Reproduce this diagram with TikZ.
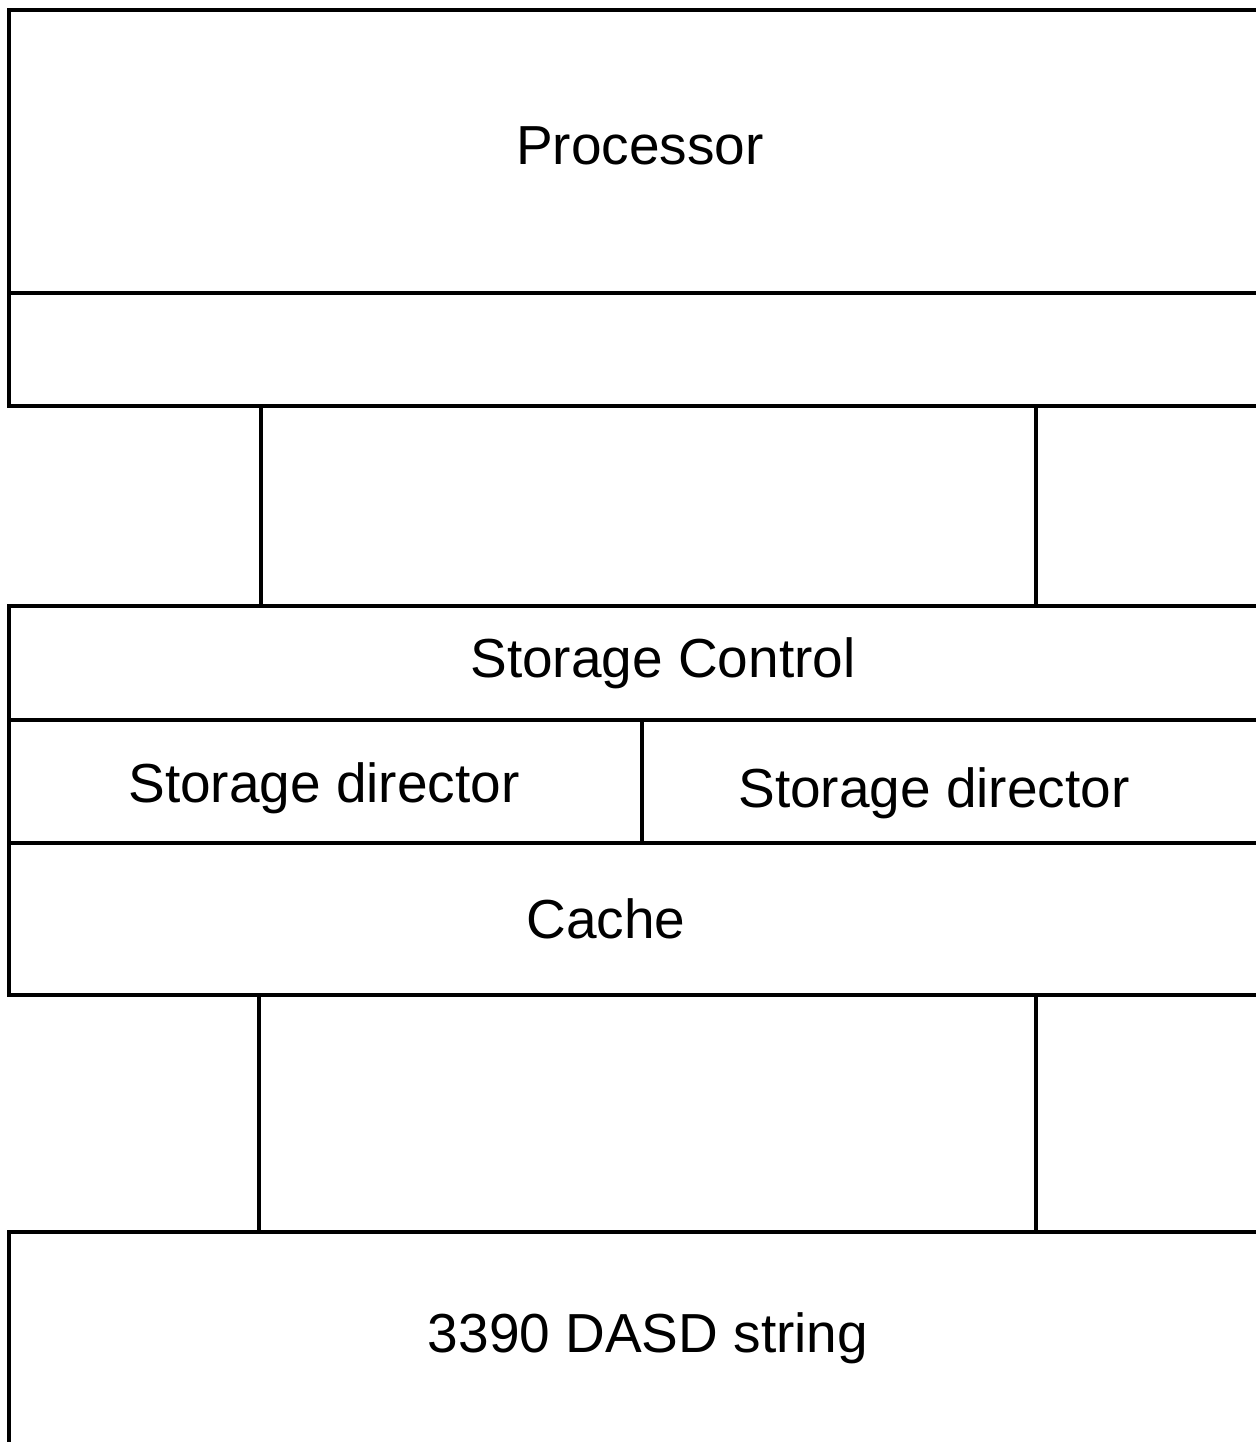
\documentclass[tikz,border=0pt]{standalone}
\usepackage{fontspec}
\setmainfont{Liberation Sans}
\usetikzlibrary{positioning,fit,calc}

\begin{document}
\begin{tikzpicture}[
    x=0.5pt, y=-0.5pt,
    every node/.style={font=\fontsize{27.5pt}{32pt}\selectfont},
    box/.style ={draw, line width=2pt, inner sep=0pt, outer sep=0pt},
    lbl/.style ={anchor=base, inner sep=0pt},
    wire/.style={line width=2pt},
]
\useasboundingbox (0,0) rectangle (1256,1442);
\clip (0,0) rectangle (1256,1442);

% boxes run off the right edge of the page
\node[box, fit={(9,10) (1290,293)}]    (proc)  {};
\node[box, fit={(9,293) (1290,406)}]   (chan)  {};
\node[box, fit={(9,606) (1290,720)}]   (ctl)   {};
\node[box, fit={(9,720) (642,843)}]    (dira)  {};
\node[box, fit={(642,720) (1290,843)}] (dirb)  {};
\node[box, fit={(9,843) (1290,995)}]   (cache) {};
\node[box, fit={(9,1232) (1290,1480)}] (dasd)  {};

\node[lbl] (proclbl)  at (640,164)  {Processor};
\node[lbl] (ctllbl)   at (663,677)  {Storage Control};
\node[lbl] (diralbl)  at (324,802)  {Storage director};
\node[lbl] (dirblbl)  at (934,807)  {Storage director};
\node[lbl] (cachelbl) at (606,938)  {Cache};
\node[lbl] (dasdlbl)  at (648,1352) {3390 DASD string};

\draw[wire] ($(chan.south west)+(252,0)$)   -- ($(ctl.north west)+(252,0)$);
\draw[wire] ($(chan.south west)+(1027,0)$)  -- ($(ctl.north west)+(1027,0)$);
\draw[wire] ($(cache.south west)+(250,0)$)  -- ($(dasd.north west)+(250,0)$);
\draw[wire] ($(cache.south west)+(1027,0)$) -- ($(dasd.north west)+(1027,0)$);

\end{tikzpicture}
\end{document}
